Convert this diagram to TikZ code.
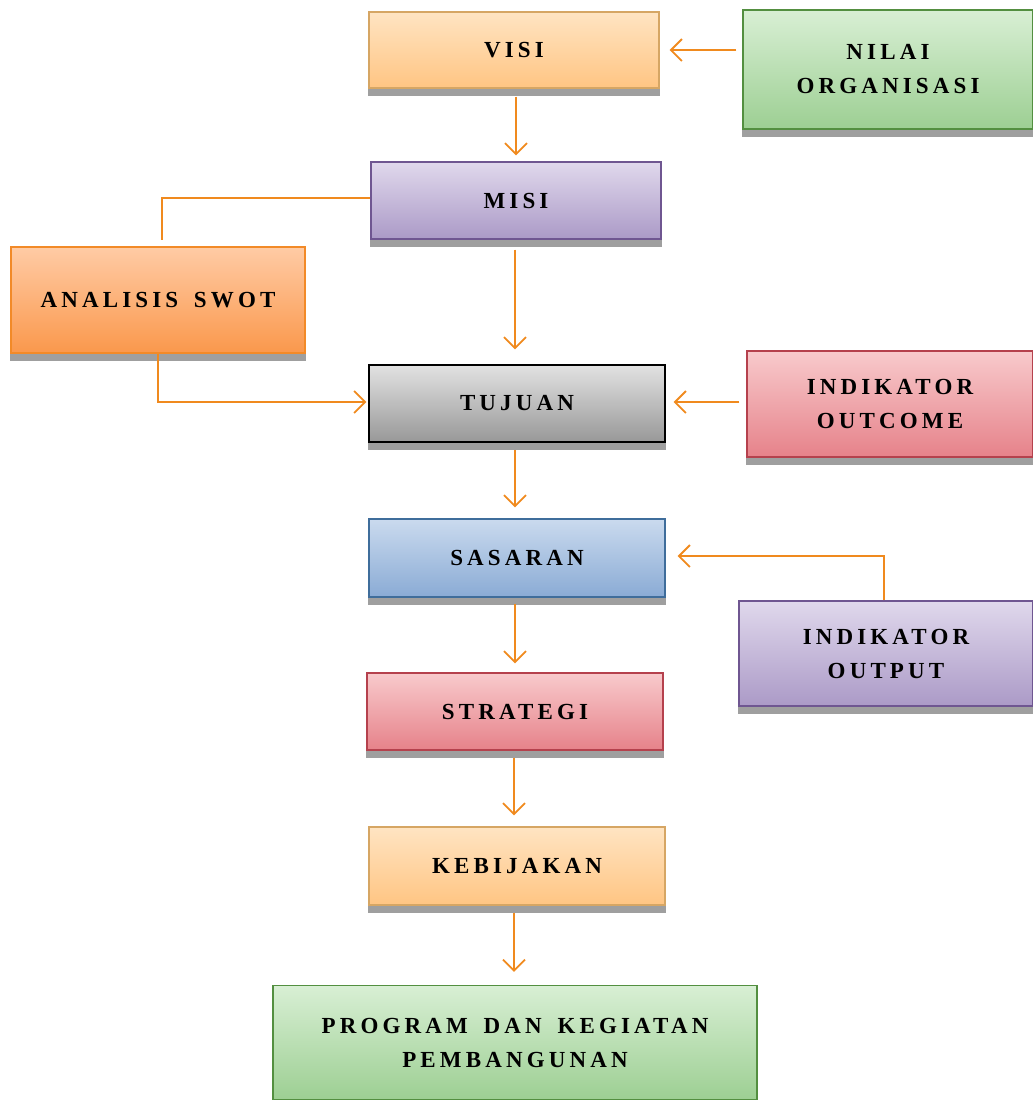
\documentclass[tikz,border=0pt]{standalone}
\usepackage{fontspec}
\usetikzlibrary{arrows.meta}
\newfontfamily\boxfont{Liberation Serif}[LetterSpace=18,WordSpace=1.6]
\definecolor{arrowc}{HTML}{F08A1E}
\definecolor{orT}{HTML}{FFE4C2}\definecolor{orB}{HTML}{FFC583}\definecolor{orD}{HTML}{D6A664}
\definecolor{grT}{HTML}{D8EFD4}\definecolor{grB}{HTML}{9DCF93}\definecolor{grD}{HTML}{538F40}
\definecolor{puT}{HTML}{E0D8EC}\definecolor{puB}{HTML}{AB9AC7}\definecolor{puD}{HTML}{6F5691}
\definecolor{saT}{HTML}{FFCBA5}\definecolor{saB}{HTML}{FA984C}\definecolor{saD}{HTML}{F28A28}
\definecolor{gyT}{HTML}{E2E2E2}\definecolor{gyB}{HTML}{989898}\definecolor{gyD}{HTML}{000000}
\definecolor{rdT}{HTML}{F8CACC}\definecolor{rdB}{HTML}{E6828A}\definecolor{rdD}{HTML}{B5414D}
\definecolor{blT}{HTML}{CADAEE}\definecolor{blB}{HTML}{8AABD5}\definecolor{blD}{HTML}{3F6D9B}
\tikzset{
  box/.style={draw, line width=1.4pt, inner sep=2pt, align=center,
    font=\boxfont\bfseries\fontsize{23}{34}\selectfont},
  orbox/.style={box, draw=orD, top color=orT, bottom color=orB},
  grbox/.style={box, draw=grD, top color=grT, bottom color=grB},
  pubox/.style={box, draw=puD, top color=puT, bottom color=puB},
  sabox/.style={box, draw=saD, top color=saT, bottom color=saB},
  gybox/.style={box, draw=gyD, top color=gyT, bottom color=gyB},
  rdbox/.style={box, draw=rdD, top color=rdT, bottom color=rdB},
  blbox/.style={box, draw=blD, top color=blT, bottom color=blB},
  shad/.style={fill=gray!75},
  conn/.style={draw=arrowc, line width=1.8pt},
  arr/.style={conn, -{Straight Barb[length=11pt,width=22pt,line width=1.8pt]}}
}
\newcommand{\bxshadow}[1]{\fill[shad] ([xshift=-0.7pt]#1.south west) rectangle ([yshift=-7pt,xshift=0.7pt]#1.south east);}
\begin{document}
\begin{tikzpicture}[x=1pt,y=-1pt]
\useasboundingbox (0,0) rectangle (1033,1101);
% nodes
\node[orbox, minimum width=290pt, minimum height=76pt] (visi) at (514,50) {VISI};
\node[grbox, minimum width=290pt, minimum height=119pt] (nilai) at (888,69.5) {NILAI\\ORGANISASI};
\node[pubox, minimum width=290pt, minimum height=77pt] (misi) at (516,200.5) {MISI};
\node[sabox, minimum width=294pt, minimum height=106pt] (swot) at (158,300) {ANALISIS SWOT};
\node[gybox, minimum width=296pt, minimum height=77pt] (tujuan) at (517,403.5) {TUJUAN};
\node[rdbox, minimum width=286pt, minimum height=106pt] (outcome) at (890,404) {INDIKATOR\\OUTCOME};
\node[blbox, minimum width=296pt, minimum height=78pt] (sasaran) at (517,558) {SASARAN};
\node[pubox, minimum width=294pt, minimum height=105pt] (output) at (886,653.5) {INDIKATOR\\OUTPUT};
\node[rdbox, minimum width=296pt, minimum height=77pt] (strategi) at (515,711.5) {STRATEGI};
\node[orbox, minimum width=296pt, minimum height=78pt] (kebijakan) at (517,866) {KEBIJAKAN};
\node[grbox, minimum width=484pt, minimum height=114pt] (program) at (515,1042.5) {PROGRAM DAN KEGIATAN\\PEMBANGUNAN};
% shadows
\bxshadow{visi}\bxshadow{nilai}\bxshadow{misi}\bxshadow{swot}\bxshadow{tujuan}
\bxshadow{outcome}\bxshadow{sasaran}\bxshadow{output}\bxshadow{strategi}\bxshadow{kebijakan}
% helper coordinates
\coordinate (swottop) at (162,240);
% connectors
\draw[arr] ([xshift=-6pt]nilai.west |- visi.east) -- ([xshift=10pt]visi.east);
\draw[arr] ([yshift=-8pt]visi.south -| 516,0) -- ([yshift=6pt]misi.north -| 516,0);
\draw[conn] (misi.west |- 0,198) -| (swottop);
\draw[arr] ([yshift=-10pt]misi.south -| 515,0) -- ([yshift=15pt]tujuan.north -| 515,0);
\draw[arr] (swot.south) |- ([xshift=-2pt]tujuan.west |- 0,402);
\draw[arr] ([xshift=-7pt]outcome.west |- 0,402) -- ([xshift=8pt]tujuan.east |- 0,402);
\draw[arr] ([yshift=-7pt]tujuan.south -| 515,0) -- ([yshift=11pt]sasaran.north -| 515,0);
\draw[arr] (output.north -| 884,0) |- ([xshift=12pt]sasaran.east |- 0,556);
\draw[arr] ([yshift=-6pt]sasaran.south -| 515,0) -- ([yshift=9pt]strategi.north -| 515,0);
\draw[arr] ([yshift=-7pt]strategi.south -| 514,0) -- ([yshift=11pt]kebijakan.north -| 514,0);
\draw[arr] ([yshift=-7pt]kebijakan.south -| 514,0) -- ([yshift=13pt]program.north -| 514,0);
\end{tikzpicture}
\end{document}
